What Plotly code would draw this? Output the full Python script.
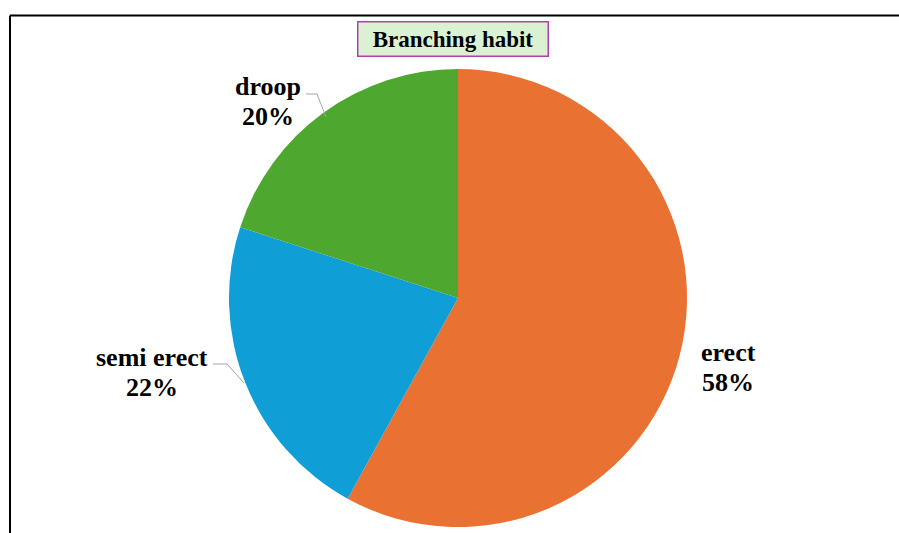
import plotly.graph_objects as go

categories = ["erect", "semi erect", "droop"]
values = [58, 22, 20]
colors = ["#E97132", "#0F9ED5", "#4EA72E"]
title_text = "Branching habit"

W, H = 899, 533
cx, cy, r = 458, 298, 229

def px(x):
    return x / W

def py(y):
    return 1 - y / H

fig = go.Figure(go.Pie(
    labels=categories,
    values=values,
    sort=False,
    direction="clockwise",
    rotation=0,
    marker=dict(colors=colors, line=dict(color="white", width=0)),
    textinfo="none",
    hoverinfo="label+percent",
    showlegend=False,
    domain=dict(x=[px(cx - r), px(cx + r)], y=[py(cy + r), py(cy - r)]),
))

FAM = "Liberation Serif"
font = dict(family=FAM, size=26, color="black")
total = sum(values)
label_pos = {
    "erect": (728, 352),
    "semi erect": (152, 357),
    "droop": (268, 87),
}
annotations = []
for c, v in zip(categories, values):
    x, y = label_pos[c]
    annotations.append(dict(
        x=px(x), y=py(y), xref="paper", yref="paper",
        text=f"<b>{c}</b>", showarrow=False, font=font,
        xanchor="center", yanchor="middle",
    ))
    annotations.append(dict(
        x=px(x), y=py(y + 30), xref="paper", yref="paper",
        text=f"<b>{round(100 * v / total)}%</b>", showarrow=False, font=font,
        xanchor="center", yanchor="middle",
    ))
annotations.append(dict(
    x=px(452.5), y=py(38.5), xref="paper", yref="paper",
    text=f"<b>{title_text}</b>", showarrow=False,
    font=dict(family=FAM, size=23, color="black"),
    bgcolor="#DBF2D2", bordercolor="#B23FB2", borderwidth=1.5, borderpad=3,
    width=183, height=27,
    xanchor="center", yanchor="middle",
))

shapes = [
    dict(type="line", xref="paper", yref="paper", x0=px(10), x1=1.01, y0=py(15.5), y1=py(15.5),
         line=dict(color="black", width=2)),
    dict(type="line", xref="paper", yref="paper", x0=px(10), x1=px(10), y0=py(15.5), y1=-0.01,
         line=dict(color="black", width=2)),
    # leader lines
    dict(type="path", xref="paper", yref="paper",
         path=f"M {px(306)},{py(94)} L {px(317)},{py(94)} L {px(326)},{py(117)}",
         line=dict(color="#A6A6A6", width=1)),
    dict(type="path", xref="paper", yref="paper",
         path=f"M {px(213)},{py(364)} L {px(227)},{py(364)} L {px(244)},{py(383)}",
         line=dict(color="#A6A6A6", width=1)),
]

fig.update_layout(
    width=W, height=H,
    margin=dict(l=0, r=0, t=0, b=0),
    paper_bgcolor="white", plot_bgcolor="white",
    annotations=annotations, shapes=shapes,
)

fig.write_html("out.html")
